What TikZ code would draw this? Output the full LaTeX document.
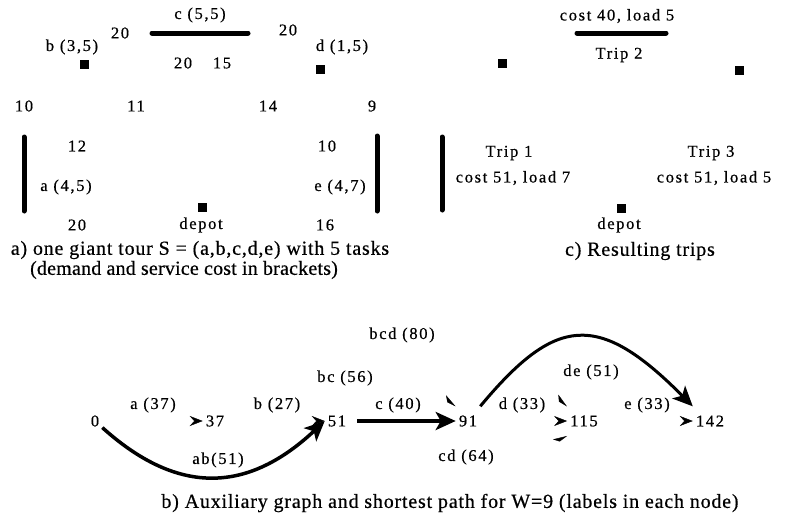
\documentclass[tikz,border=0pt]{standalone}
\usepackage{fontspec}
\setmainfont{Liberation Serif}
\newfontfamily\lblfont{Liberation Serif}[LetterSpace=10,FakeBold=0.5]
\newfontfamily\capfont{Liberation Serif}[LetterSpace=4,FakeBold=0.5]
\newfontfamily\capfontb{Liberation Serif}[LetterSpace=1,FakeBold=0.5]
\usetikzlibrary{arrows.meta}
\pgfdeclarelayer{bg}
\pgfsetlayers{bg,main}
\begin{document}
\begin{tikzpicture}[x=1pt,y=-1pt,
  lbl/.style={font=\lblfont\fontsize{16.5}{18}\selectfont, inner sep=1pt},
  captxt/.style={font=\capfont\fontsize{20}{24}\selectfont, inner sep=0pt},
  captxtb/.style={font=\capfontb\fontsize{20}{24}\selectfont, inner sep=0pt},
  num/.style={lbl, inner xsep=3pt, inner ysep=9pt},
  sq/.style={fill=black, minimum size=9pt, inner sep=0pt},
  taskline/.style={line width=5pt, line cap=round},
  hid/.style={draw=white, line width=0.4pt},
  bigarr/.style={line width=3.5pt, -{Stealth[length=20pt,width=18pt,inset=5pt]}},
  chev/.style={hid, -{Stealth[color=black,fill=black,length=13pt,width=10pt,inset=4.5pt]}},
  barb/.style={hid, -{Stealth[color=black,fill=black,harpoon,length=13pt,width=11pt,inset=4pt]}},
]
\useasboundingbox (0,0) rectangle (793,520);

% ---------- a) giant tour ----------
\coordinate (c1) at (152,33); \coordinate (c2) at (248,33);
\coordinate (a1) at (24,137); \coordinate (a2) at (24,211);
\coordinate (e1) at (377,136); \coordinate (e2) at (377,211);
\draw[taskline] (c1) -- (c2);
\draw[taskline] (a1) -- (a2);
\draw[taskline] (e1) -- (e2);
\node[sq] (sb) at (84,64) {};
\node[sq] (sd) at (320,69) {};
\node[sq] (sdep) at (202,207) {};
\node[lbl] (tc) at (200,15) {c (5,5)};
\node[lbl] (t20a) at (120,33) {20};
\node[lbl] (t20b) at (288,30) {20};
\node[lbl] (tb) at (72,47) {b (3,5)};
\node[lbl] (td) at (342,47) {d (1,5)};
\node[lbl] (t20c) at (183,63) {20};
\node[lbl] (t15) at (222,63) {15};
\node[lbl] (t10a) at (24,106) {10};
\node[lbl] (t11) at (136,106) {11};
\node[lbl] (t14) at (268,106) {14};
\node[lbl] (t9) at (372,106) {9};
\node[lbl] (t12) at (77,146) {12};
\node[lbl] (t10b) at (327,146) {10};
\node[lbl] (ta) at (66,187) {a (4,5)};
\node[lbl] (te) at (340,187) {e (4,7)};
\node[lbl] (t20d) at (77,225) {20};
\node[lbl] (tdep) at (201,225) {depot};
\node[lbl] (t16) at (325,225) {16};
\node[captxt] (capa1) at (200,250) {a) one giant tour S = (a,b,c,d,e) with 5 tasks};
\node[captxtb] (capa2) at (184,270) {(demand and service cost in brackets)};

% ---------- c) resulting trips ----------
\coordinate (r1) at (577,33); \coordinate (r2) at (666,33);
\coordinate (l1) at (442,137); \coordinate (l2) at (442,210);
\coordinate (q1) at (796,145); \coordinate (q2) at (796,208);
\draw[taskline] (r1) -- (r2);
\draw[taskline] (l1) -- (l2);
\draw[taskline] (q1) -- (q2);
\node[sq] (sb2) at (502,63) {};
\node[sq] (sd2) at (739,70) {};
\node[sq] (sdep2) at (621,208) {};
\node[lbl] (tr2a) at (617,16) {cost 40, load 5};
\node[lbl] (tr2b) at (619,55) {Trip 2};
\node[lbl] (tr1a) at (509,153) {Trip 1};
\node[lbl] (tr1b) at (513,178) {cost 51, load 7};
\node[lbl] (tr3a) at (711,153) {Trip 3};
\node[lbl] (tr3b) at (714,178) {cost 51, load 5};
\node[lbl] (tdep2) at (619,225) {depot};
\node[captxt] (capc) at (640,251) {c) Resulting trips};

% ---------- b) auxiliary graph ----------
\node[num] (n0) at (95,421) {0};
\node[num] (n37) at (215,421) {37};
\node[num] (n51) at (337,421) {51};
\node[num] (n91) at (468,421) {91};
\node[num] (n115) at (584,421) {115};
\node[num] (n142) at (710,421) {142};
\node[lbl] (la) at (153,405) {a (37)};
\node[lbl] (lb) at (277,405) {b (27)};
\node[lbl] (lc) at (398,405) {c (40)};
\node[lbl] (ld) at (522,405) {d (33)};
\node[lbl] (le) at (647,405) {e (33)};
\node[lbl] (lbcd) at (402,335) {bcd (80)};
\node[lbl] (lbc) at (345,378) {bc (56)};
\node[lbl] (lde) at (591,372) {de (51)};
\node[lbl] (lcd) at (466,457) {cd (64)};
\node[lbl] (lab) at (218,460) {ab(51)};
\node[captxt] (capb) at (450,503) {b) Auxiliary graph and shortest path for W=9 (labels in each node)};

\begin{pgfonlayer}{bg}
\draw[chev] (n0) -- (n37);
\draw[chev] (n37) -- (n51);
\draw[chev] (n91) -- (n115);
\draw[chev] (n115) -- (n142);
\draw[barb] (n37) .. controls +(60,-80) and +(-50,-25) .. (n91.north west);
\draw[barb] (n37) .. controls +(80,-140) and +(-50,-30) .. (n115.north west);
\draw[barb] (n51) .. controls +(60,60) and +(-40,30) .. (n115.south west);
\end{pgfonlayer}

\draw[bigarr] (n0) .. controls +(80,72) and +(-80,75) .. (n51.west);
\draw[bigarr, line width=4pt, shorten <=8pt] (n51) -- (n91);
\draw[bigarr, line width=3pt] (n91.north east) .. controls +(75,-90) and +(-95,-96) .. (n142.north west);
\end{tikzpicture}
\end{document}
